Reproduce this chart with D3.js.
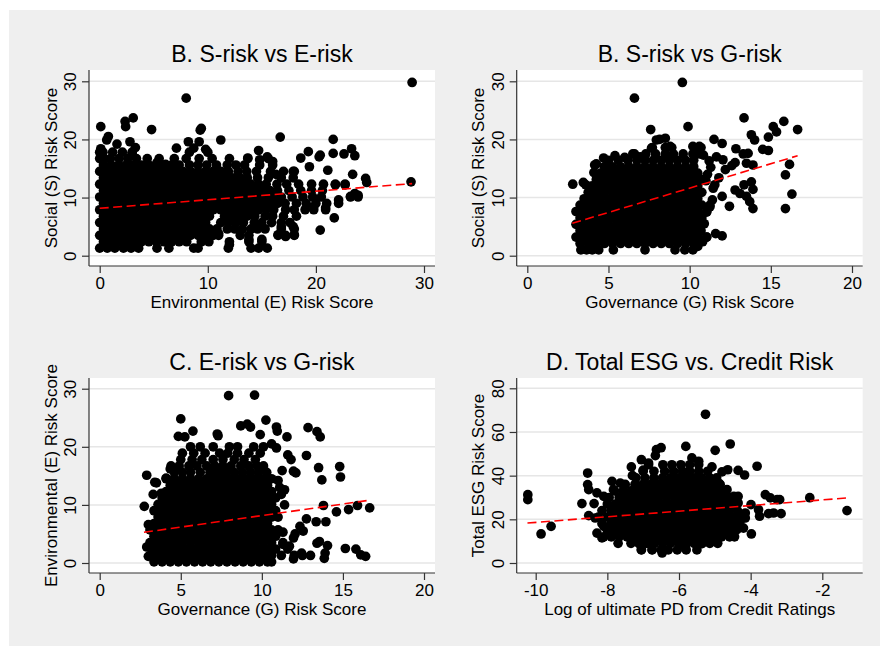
<!DOCTYPE html>
<html><head><meta charset="utf-8">
<script src="https://cdn.jsdelivr.net/npm/d3@7"></script>
<style>
body{margin:0;background:#fff}
svg{display:block}
text{font-family:"Liberation Sans",Arial,Helvetica,sans-serif;fill:#000}
</style>
</head><body>
<svg id="chart" width="880" height="646"></svg>
<script>
// ---------- Panel B1: S-risk vs E-risk (rows: [S value, [E values...]]) ----------
const seRows = [
 [1.3,[0,0.7,1.4,2.2,2.9,3.6,5.3,6.4,8.7,9.1,11.9,14.0,14.7,15.5]],
 [2.4,[0.35,1.05,1.75,2.45,3.15,3.85,4.55,5.25,5.95,6.65,7.35,8.05,9.4,10.1,12.0,13.8,15.0]],
 [3.5,[0,0.7,1.4,2.1,2.8,3.5,4.2,4.9,5.6,6.3,7.0,7.7,8.4,9.1,9.8,10.5,11.0,13.0,13.8,16.5,17.2,18.0]],
 [4.6,[0.35,1.05,1.75,2.45,3.15,3.85,4.55,5.25,5.95,6.65,7.35,8.05,8.75,9.45,10.15,10.85,11.8,12.5,13.2,14.0,14.6,15.3,16.8,18.0]],
 [5.7,[0,0.7,1.4,2.1,2.8,3.5,4.2,4.9,5.6,6.3,7.0,7.7,8.4,9.1,9.8,11.2,11.9,12.6,13.3,14.3,15.0,15.9,16.8,17.6]],
 [6.8,[0.35,1.05,1.75,2.45,3.15,3.85,4.55,5.25,5.95,6.65,7.35,8.05,8.75,9.45,10.15,11.55,12.25,12.95,13.65,14.35,15.3,16.0,17.0,18.2]],
 [7.9,[0,0.7,1.4,2.1,2.8,3.5,4.2,4.9,5.6,6.3,7.0,7.7,8.4,9.1,9.8,10.5,11.2,11.9,12.6,13.3,14.0,14.7,15.4,16.1,17.2,18.0,19.0,19.8,20.9]],
 [9.0,[0.35,1.05,1.75,2.45,3.15,3.85,4.55,5.25,5.95,6.65,7.35,8.05,8.75,9.45,10.15,10.85,11.55,12.25,12.95,13.65,14.35,15.05,15.75,16.45,17.15,18.2,19.1,20.0,21.0,22.1]],
 [10.1,[0,0.7,1.4,2.1,2.8,3.5,4.2,4.9,5.6,6.3,7.0,7.7,8.4,9.1,9.8,10.5,11.2,11.9,12.6,13.3,14.0,14.7,15.4,16.1,16.8,17.8,18.8,19.7,20.5,23.2,23.9]],
 [11.2,[0.35,1.05,1.75,2.45,3.15,3.85,4.55,5.25,5.95,6.65,7.35,8.05,8.75,9.45,10.15,10.85,11.55,12.25,12.95,13.65,14.35,15.05,15.75,16.45,17.5,18.6,19.6,20.6]],
 [12.3,[0,0.7,1.4,2.1,2.8,3.5,4.2,4.9,5.6,6.3,7.0,7.7,8.4,9.1,9.8,10.5,11.2,11.9,12.6,13.3,14.0,14.7,15.4,16.4,17.3,18.4,19.6,20.7,21.8,22.7]],
 [13.4,[0.35,1.05,1.75,2.45,3.15,3.85,4.55,5.25,5.95,6.65,7.35,8.05,8.75,9.45,10.15,10.85,11.55,12.25,12.95,13.65,14.6,15.6,16.8,17.9]],
 [14.5,[0,0.7,1.4,2.1,2.8,3.5,4.2,4.9,5.6,6.3,7.0,7.7,8.4,9.1,9.8,10.5,11.2,11.9,12.8,13.6,14.5,15.8,17.0,18.0]],
 [15.6,[0.35,1.05,1.75,2.45,3.15,3.85,4.55,5.25,5.95,6.65,7.35,8.3,9.1,9.9,10.8,11.8,12.6,13.4,14.8,16.0]],
 [16.7,[0,0.4,1.0,1.8,2.6,3.4,4.4,5.5,6.9,8.0,9.2,10.4,12.0,13.7,15.6]],
 [17.8,[0,0.3,1.2,2.1,3.0,8.3,10.0]]
];
const seOutliers = [[28.9,29.8],[28.8,12.7],[8.0,27.1],[0.1,22.2],[2.35,23.1],[3.1,23.7],[2.4,22.2],[4.8,21.7],[9.3,21.6],[9.4,21.9],[9.2,19.6],[8.2,19.6],[11.2,19.9],[16.7,20.4],[21.6,20.0],[23.3,18.4],[21.6,17.6],[22.6,17.5],[23.6,17.2],[19.3,17.9],[20.4,17.3],[20.3,17.0],[18.6,16.8],[19.4,15.3],[21.1,14.7],[23.4,14.0],[24.6,13.3],[24.7,12.6],[23.6,10.7],[23.9,10.4],[23.2,10.2],[22.1,9.6],[21.7,6.5],[20.4,4.4],[20.9,8.2],[19.8,8.4],[21.8,12.2],[22.7,12.2],[17.9,5.0],[18.0,3.6],[17.2,3.3],[16.5,3.6],[16.8,5.0],[13.8,2.8],[15.0,2.8],[12.0,1.9],[11.0,3.8],[13.7,16.8],[14.7,18.1],[7.1,18.5],[8.7,18.5],[9.8,18.3],[5.3,16.0],[6.1,15.7],[1.6,19.2],[2.8,19.6],[0.8,20.5],[0.65,19.9],[3.3,18.6],[3.0,17.5],[0.1,18.4],[14.8,16.5],[15.5,17.0],[16.0,16.2],[17.9,14.5],[16.3,14.0]];
const seFit = [[0,8.15],[28.9,12.4]];

// ---------- Panel B2: S-risk vs G-risk (rows: [S value, [G values...]]) ----------
const sgRows = [
 [1.0,[3.3,3.65,4.0,4.4,5.3,7.25,9.1,9.7,10.2]],
 [2.1,[3.25,3.75,4.25,4.75,5.25,5.75,6.25,6.75,7.25,7.75,8.25,8.75,9.25,9.75,10.25]],
 [3.2,[3.0,3.5,4.0,4.5,5.0,5.5,6.0,6.5,7.0,7.5,8.0,8.5,9.0,9.5,10.0,10.5,11.05]],
 [4.3,[3.25,3.75,4.25,4.75,5.25,5.75,6.25,6.75,7.25,7.75,8.25,8.75,9.25,9.75,10.25,10.7]],
 [5.4,[3.0,3.5,4.0,4.5,5.0,5.5,6.0,6.5,7.0,7.5,8.0,8.5,9.0,9.5,10.0,10.5]],
 [6.5,[3.25,3.75,4.25,4.75,5.25,5.75,6.25,6.75,7.25,7.75,8.25,8.75,9.25,9.75,10.25,10.75]],
 [7.6,[3.0,3.5,4.0,4.5,5.0,5.5,6.0,6.5,7.0,7.5,8.0,8.5,9.0,9.5,10.0,10.5,11.05]],
 [8.7,[3.25,3.75,4.25,4.75,5.25,5.75,6.25,6.75,7.25,7.75,8.25,8.75,9.25,9.75,10.25,10.75,11.25]],
 [9.8,[3.5,4.0,4.5,5.0,5.5,6.0,6.5,7.0,7.5,8.0,8.5,9.0,9.5,10.0,10.5]],
 [10.9,[3.75,4.25,4.75,5.25,5.75,6.25,6.75,7.25,7.75,8.25,8.75,9.25,9.75,10.25,10.75]],
 [12.0,[4.0,4.5,5.0,5.5,6.0,6.5,7.0,7.5,8.0,8.5,9.0,9.5,10.0,10.5]],
 [13.1,[4.25,4.75,5.25,5.75,6.25,6.75,7.25,7.75,8.25,8.75,9.25,9.75,10.25,10.75]],
 [14.2,[4.5,5.0,5.5,6.0,6.5,7.0,7.5,8.0,8.5,9.0,9.5,10.0,10.5]],
 [15.3,[4.75,5.25,5.75,6.25,6.75,7.25,7.75,8.25,8.75,9.25,9.75,10.25]],
 [16.4,[5.0,5.6,6.2,6.75,7.25,7.75,8.25,8.75,9.25,9.75,10.25]],
 [17.5,[6.6,7.3,7.9,8.5,9.0,9.6,10.2,10.6]],
 [18.6,[7.7,8.5,8.9,10.3,10.7]]
];
const sgOutliers = [[9.55,29.8],[6.6,27.1],[7.6,21.7],[9.9,22.2],[13.35,23.7],[15.8,23.1],[16.65,21.7],[15.15,22.2],[15.35,21.3],[14.85,20.4],[13.8,20.8],[14.0,19.9],[14.5,18.3],[14.85,18.1],[11.5,20.0],[12.0,19.3],[12.85,18.4],[13.3,17.5],[13.6,17.6],[13.5,15.9],[13.9,15.6],[12.8,16.0],[12.05,16.5],[11.65,17.0],[16.15,15.7],[15.9,13.9],[16.3,10.6],[15.9,8.1],[13.8,12.7],[13.35,12.2],[13.9,11.4],[12.8,11.3],[13.1,10.7],[13.5,10.2],[13.7,9.3],[13.9,8.1],[12.45,8.5],[12.0,10.2],[11.45,11.6],[11.55,12.2],[11.25,8.4],[11.05,7.5],[11.05,3.2],[11.6,3.8],[12.0,3.4],[2.8,12.3],[3.45,12.6],[3.6,12.2],[4.15,15.6],[4.25,15.8],[4.1,14.3],[4.7,16.8],[5.4,17.2],[6.0,16.9],[6.5,17.5],[6.95,17.0],[7.65,18.5],[7.95,19.9],[8.15,20.0],[8.5,20.2],[8.8,18.8],[10.2,18.8],[10.6,18.8],[10.85,17.3],[11.3,15.2],[11.1,14.0],[11.8,13.4],[12.2,14.8],[12.6,15.5],[11.2,16.3],[11.0,12.9],[11.4,9.6],[10.9,5.5],[10.8,2.4],[10.5,1.6]];
const sgFit = [[2.77,5.57],[16.65,17.2]];

// ---------- Panel C: E-risk vs G-risk (rows: [E value, [G values...]]) ----------
const egRows = [
 [0.2,[3.35,3.85,4.35,4.85,5.35,5.85,6.35,6.85,7.35,7.85,8.35,8.85,9.35,9.85,10.35,10.6]],
 [1.3,[3.1,3.6,4.1,4.6,5.1,5.6,6.1,6.6,7.1,7.6,8.1,8.6,9.1,9.6,10.1,10.6,11.2,12.0,12.5,13.0]],
 [2.4,[3.35,3.85,4.35,4.85,5.35,5.85,6.35,6.85,7.35,7.85,8.35,8.85,9.35,9.85,10.35,10.85,11.6]],
 [3.5,[3.1,3.6,4.1,4.6,5.1,5.6,6.1,6.6,7.1,7.6,8.1,8.6,9.1,9.6,10.1,10.6,11.3]],
 [4.6,[3.35,3.85,4.35,4.85,5.35,5.85,6.35,6.85,7.35,7.85,8.35,8.85,9.35,9.85,10.35,10.85]],
 [5.7,[3.1,3.6,4.1,4.6,5.1,5.6,6.1,6.6,7.1,7.6,8.1,8.6,9.1,9.6,10.1,10.6,11.0]],
 [6.8,[3.35,3.85,4.35,4.85,5.35,5.85,6.35,6.85,7.35,7.85,8.35,8.85,9.35,9.85,10.35]],
 [7.9,[3.6,4.1,4.6,5.1,5.6,6.1,6.6,7.1,7.6,8.1,8.6,9.1,9.6,10.1,10.6,11.0]],
 [9.0,[3.35,3.85,4.35,4.85,5.35,5.85,6.35,6.85,7.35,7.85,8.35,8.85,9.35,9.85,10.35,10.85]],
 [10.1,[3.6,4.1,4.6,5.1,5.6,6.1,6.6,7.1,7.6,8.1,8.6,9.1,9.6,10.1,10.6]],
 [11.2,[3.85,4.35,4.85,5.35,5.85,6.35,6.85,7.35,7.85,8.35,8.85,9.35,9.85,10.35,10.85]],
 [12.3,[4.1,4.6,5.1,5.6,6.1,6.6,7.1,7.6,8.1,8.6,9.1,9.6,10.1,10.6]],
 [13.4,[4.35,4.85,5.35,5.85,6.35,6.85,7.35,7.85,8.35,8.85,9.35,9.85,10.35]],
 [14.5,[4.1,4.6,5.1,5.6,6.1,6.6,7.1,7.6,8.1,8.6,9.1,9.6,10.1,10.6]],
 [15.6,[4.6,5.1,5.6,6.2,6.8,7.3,7.8,8.3,8.8,9.3,9.8,10.3]],
 [16.7,[4.4,4.9,5.5,6.0,6.6,7.1,7.6,8.1,8.7,9.2,9.7,10.1]],
 [17.8,[5.0,5.7,6.3,7.0,7.6,8.3,8.9,9.6]],
 [18.9,[5.1,5.8,6.5,7.4,7.9,8.5,9.2,9.9]],
 [20.0,[5.6,6.2,7.0,8.0,8.5,9.5,10.1]]
];
const egOutliers = [[7.95,28.8],[9.55,28.9],[5.0,24.8],[5.75,22.7],[4.85,21.8],[5.25,21.7],[7.25,22.2],[7.3,21.9],[8.7,23.6],[9.1,23.9],[9.3,23.4],[10.25,24.6],[10.9,23.4],[10.95,22.7],[9.9,22.1],[11.55,21.7],[12.85,23.3],[13.4,22.6],[13.6,21.7],[12.75,18.5],[11.6,18.6],[11.8,17.8],[11.25,15.9],[11.95,15.8],[12.1,15.5],[13.5,16.4],[13.7,14.3],[14.8,16.6],[14.85,14.8],[11.4,10.0],[10.85,8.3],[16.65,9.5],[15.9,9.9],[15.35,9.2],[14.6,8.8],[13.8,9.9],[13.95,7.1],[13.35,7.1],[12.75,7.6],[12.35,6.3],[12.55,5.5],[11.3,5.3],[11.95,4.3],[12.05,5.0],[11.3,3.2],[11.7,2.9],[13.4,3.4],[13.55,3.7],[14.05,3.0],[13.9,1.7],[13.85,0.8],[15.15,2.5],[15.8,2.4],[16.1,1.4],[16.4,1.15],[12.45,1.7],[11.95,0.7],[2.9,15.1],[3.4,13.9],[3.5,13.8],[4.1,14.6],[4.35,16.2],[2.75,9.75],[3.0,6.6],[2.9,2.75],[3.0,1.15],[3.3,11.8],[3.8,12.0],[4.5,12.6],[11.1,13.0],[11.2,11.8],[10.9,19.8],[10.6,20.5],[11.0,14.2],[11.4,12.6]];
const egFit = [[2.73,5.28],[16.46,10.73]];

// ---------- Panel D: Total ESG vs log PD (rows: [ESG value, [logPD values...]]) ----------
const pdRows = [
 [6,[-7.05,-6.75,-6.5,-6.3,-6.05,-5.8,-5.5]],
 [9,[-7.7,-7.34,-7.12,-6.9,-6.68,-6.46,-6.24,-6.02,-5.8,-5.58,-5.36,-5.14,-4.92]],
 [12,[-8.1,-7.89,-7.67,-7.45,-7.23,-7.01,-6.79,-6.57,-6.35,-6.13,-5.91,-5.69,-5.47,-5.25,-5.03,-4.81,-4.59,-4.45]],
 [15,[-8.0,-7.78,-7.56,-7.34,-7.12,-6.9,-6.68,-6.46,-6.24,-6.02,-5.8,-5.58,-5.36,-5.14,-4.92,-4.7,-4.48]],
 [18,[-8.15,-7.9,-7.67,-7.45,-7.23,-7.01,-6.79,-6.57,-6.35,-6.13,-5.91,-5.69,-5.47,-5.25,-5.03,-4.81,-4.59,-4.37]],
 [21,[-8.25,-8.0,-7.78,-7.56,-7.34,-7.12,-6.9,-6.68,-6.46,-6.24,-6.02,-5.8,-5.58,-5.36,-5.14,-4.92,-4.7,-4.48,-4.28]],
 [24,[-8.15,-7.9,-7.67,-7.45,-7.23,-7.01,-6.79,-6.57,-6.35,-6.13,-5.91,-5.69,-5.47,-5.25,-5.03,-4.81,-4.59,-4.37]],
 [27,[-8.0,-7.78,-7.56,-7.34,-7.12,-6.9,-6.68,-6.46,-6.24,-6.02,-5.8,-5.58,-5.36,-5.14,-4.92,-4.7,-4.48]],
 [30,[-7.95,-7.67,-7.45,-7.23,-7.01,-6.79,-6.57,-6.35,-6.13,-5.91,-5.69,-5.47,-5.25,-5.03,-4.81,-4.59]],
 [33,[-7.8,-7.56,-7.34,-7.12,-6.9,-6.68,-6.46,-6.24,-6.02,-5.8,-5.58,-5.36,-5.14,-4.92,-4.7]],
 [36,[-7.5,-7.23,-7.01,-6.79,-6.57,-6.35,-6.13,-5.91,-5.69,-5.47,-5.25,-5.03,-4.85]],
 [39,[-7.2,-6.95,-6.7,-6.46,-6.24,-6.02,-5.8,-5.58,-5.36,-5.14,-4.95]],
 [42,[-7.0,-6.7,-6.4,-6.15,-5.9,-5.7,-5.45,-5.2]],
 [45,[-6.85,-6.45,-6.2,-5.95,-5.7,-5.45]]
];
const pdOutliers = [[-5.26,68.1],[-4.57,54.5],[-4.99,51.6],[-5.81,53.4],[-6.5,52.8],[-6.63,51.9],[-6.66,49.2],[-7.05,47.3],[-6.85,45.8],[-7.33,44.0],[-5.64,48.1],[-5.45,46.6],[-5.08,44.0],[-3.82,44.3],[-4.8,41.7],[-4.64,42.7],[-4.35,42.4],[-4.17,40.3],[-8.55,41.2],[-8.55,35.9],[-8.52,33.6],[-8.71,27.2],[-8.52,21.7],[-8.34,20.6],[-8.37,27.2],[-8.29,32.1],[-8.1,30.5],[-7.87,37.4],[-7.83,33.6],[-7.64,36.6],[-7.55,35.9],[-8.29,13.7],[-8.15,11.5],[-8.1,16.8],[-10.22,31.3],[-10.22,29.0],[-9.85,13.3],[-9.57,16.8],[-3.99,26.7],[-4.15,22.9],[-4.15,20.6],[-3.98,13.3],[-3.78,24.4],[-3.75,21.4],[-3.59,31.3],[-3.45,29.8],[-3.26,29.0],[-3.19,29.0],[-3.5,22.6],[-3.36,22.9],[-3.15,22.6],[-2.35,29.9],[-1.31,24.0],[-7.08,8.4],[-7.05,6.1],[-6.47,4.6],[-6.75,6.1],[-5.82,7.3],[-5.36,8.9],[-5.08,9.9],[-4.57,12.2],[-4.38,15.3],[-4.57,17.1],[-4.66,33.6],[-4.61,29.8],[-4.47,30.5],[-4.35,30.5],[-4.35,27.5],[-4.89,36.6],[-7.3,40.0],[-7.0,42.5],[-4.3,18.5],[-4.2,16.0]];
const pdFit = [[-10.23,18.3],[-1.29,29.8]];

// ---------- Titles, labels, ticks ----------
const titles = ["B. S-risk vs E-risk","B. S-risk vs G-risk","C. E-risk vs G-risk","D. Total ESG vs. Credit Risk"];
const xLabels = ["Environmental (E) Risk Score","Governance (G) Risk Score","Governance (G) Risk Score","Log of ultimate PD from Credit Ratings"];
const yLabels = ["Social (S) Risk Score","Social (S) Risk Score","Environmental (E) Risk Score","Total ESG Risk Score"];
const xTickSets = [[0,10,20,30],[0,5,10,15,20],[0,5,10,15,20],[-10,-8,-6,-4,-2]];
const yTickSets = [[0,10,20,30],[0,10,20,30],[0,10,20,30],[0,20,40,60,80]];

// layout (pixel geometry only)
const layout = [
 {l:89, r:435, t:70, b:266, xd:[0,30], xr:[99.7,424], yd:[0,30], yr:[255.7,81.3]},
 {l:516.7, r:862.7, t:70, b:266, xd:[0,20], xr:[527.3,852], yd:[0,30], yr:[255.7,81.3]},
 {l:89, r:435, t:378, b:573, xd:[0,20], xr:[99.7,424], yd:[0,30], yr:[563,388.7]},
 {l:516.7, r:862.7, t:378, b:573, xd:[-10,-2], xr:[535.7,822.3], yd:[0,80], yr:[563,388.3]}
];
const rowSets = [seRows, sgRows, egRows, pdRows];
const outlierSets = [seOutliers, sgOutliers, egOutliers, pdOutliers];
const fitSets = [seFit, sgFit, egFit, pdFit];

const svg = d3.select("#chart");
svg.append("rect").attr("x",9).attr("y",10).attr("width",871).attr("height",636).attr("fill","#efefef");

const AX = "#333";
layout.forEach((L,i)=>{
  const g = svg.append("g");
  g.append("rect").attr("x",L.l).attr("y",L.t).attr("width",L.r-L.l).attr("height",L.b-L.t).attr("fill","#fff");
  const x = d3.scaleLinear().domain(L.xd).range(L.xr);
  const y = d3.scaleLinear().domain(L.yd).range(L.yr);

  // gridlines
  g.append("g").selectAll("line").data(yTickSets[i]).join("line")
    .attr("x1",L.l).attr("x2",L.r).attr("y1",d=>y(d)).attr("y2",d=>y(d))
    .attr("stroke","#e6e6e6").attr("stroke-width",1.5);

  // points
  const pts = [];
  rowSets[i].forEach(([yy,xs])=>xs.forEach(xx=>pts.push([xx,yy])));
  outlierSets[i].forEach(d=>pts.push(d));
  g.append("g").selectAll("circle").data(pts).join("circle")
    .attr("cx",d=>x(d[0])).attr("cy",d=>y(d[1])).attr("r",4.85).attr("fill","#000");

  // fitted line
  g.append("path").datum(fitSets[i])
    .attr("d", d3.line().x(d=>x(d[0])).y(d=>y(d[1])))
    .attr("fill","none").attr("stroke","#ff0000").attr("stroke-width",1.6)
    .attr("stroke-dasharray","9,4.5");

  // axis lines
  g.append("line").attr("x1",L.l).attr("x2",L.r).attr("y1",L.b).attr("y2",L.b).attr("stroke",AX).attr("stroke-width",1.2);
  g.append("line").attr("x1",L.l).attr("x2",L.l).attr("y1",L.t).attr("y2",L.b).attr("stroke",AX).attr("stroke-width",1.2);

  // x axis
  const xa = g.append("g").attr("transform",`translate(0,${L.b})`)
    .call(d3.axisBottom(x).tickValues(xTickSets[i]).tickSize(7).tickFormat(d3.format("d")));
  xa.select(".domain").remove();
  xa.selectAll(".tick line").attr("stroke",AX).attr("stroke-width",1.2);
  xa.selectAll(".tick text").attr("y",23.3).attr("dy",null)
    .attr("font-size",17).attr("font-family","'Liberation Sans',Arial,sans-serif").attr("fill","#000")
    .text(d=>d<0 ? "-"+Math.abs(d) : d);

  // y axis
  const ya = g.append("g").attr("transform",`translate(${L.l},0)`)
    .call(d3.axisLeft(y).tickValues(yTickSets[i]).tickSize(7));
  ya.select(".domain").remove();
  ya.selectAll(".tick line").attr("stroke",AX).attr("stroke-width",1.2);
  ya.selectAll(".tick text").attr("x",0).attr("y",-13).attr("dy",null)
    .attr("transform","rotate(-90)").attr("text-anchor","middle")
    .attr("font-size",17).attr("font-family","'Liberation Sans',Arial,sans-serif").attr("fill","#000");

  // titles and axis titles
  g.append("text").attr("x",(L.l+L.r)/2).attr("y",L.t-8.5).attr("text-anchor","middle")
    .attr("font-size",23).text(titles[i]);
  g.append("text").attr("x",(L.l+L.r)/2).attr("y",L.b+41.8).attr("text-anchor","middle")
    .attr("font-size",17).text(xLabels[i]);
  g.append("text").attr("transform",`translate(${L.l-32.5},${(L.t+L.b)/2}) rotate(-90)`)
    .attr("text-anchor","middle").attr("font-size",17).text(yLabels[i]);
});
</script>
</body></html>
